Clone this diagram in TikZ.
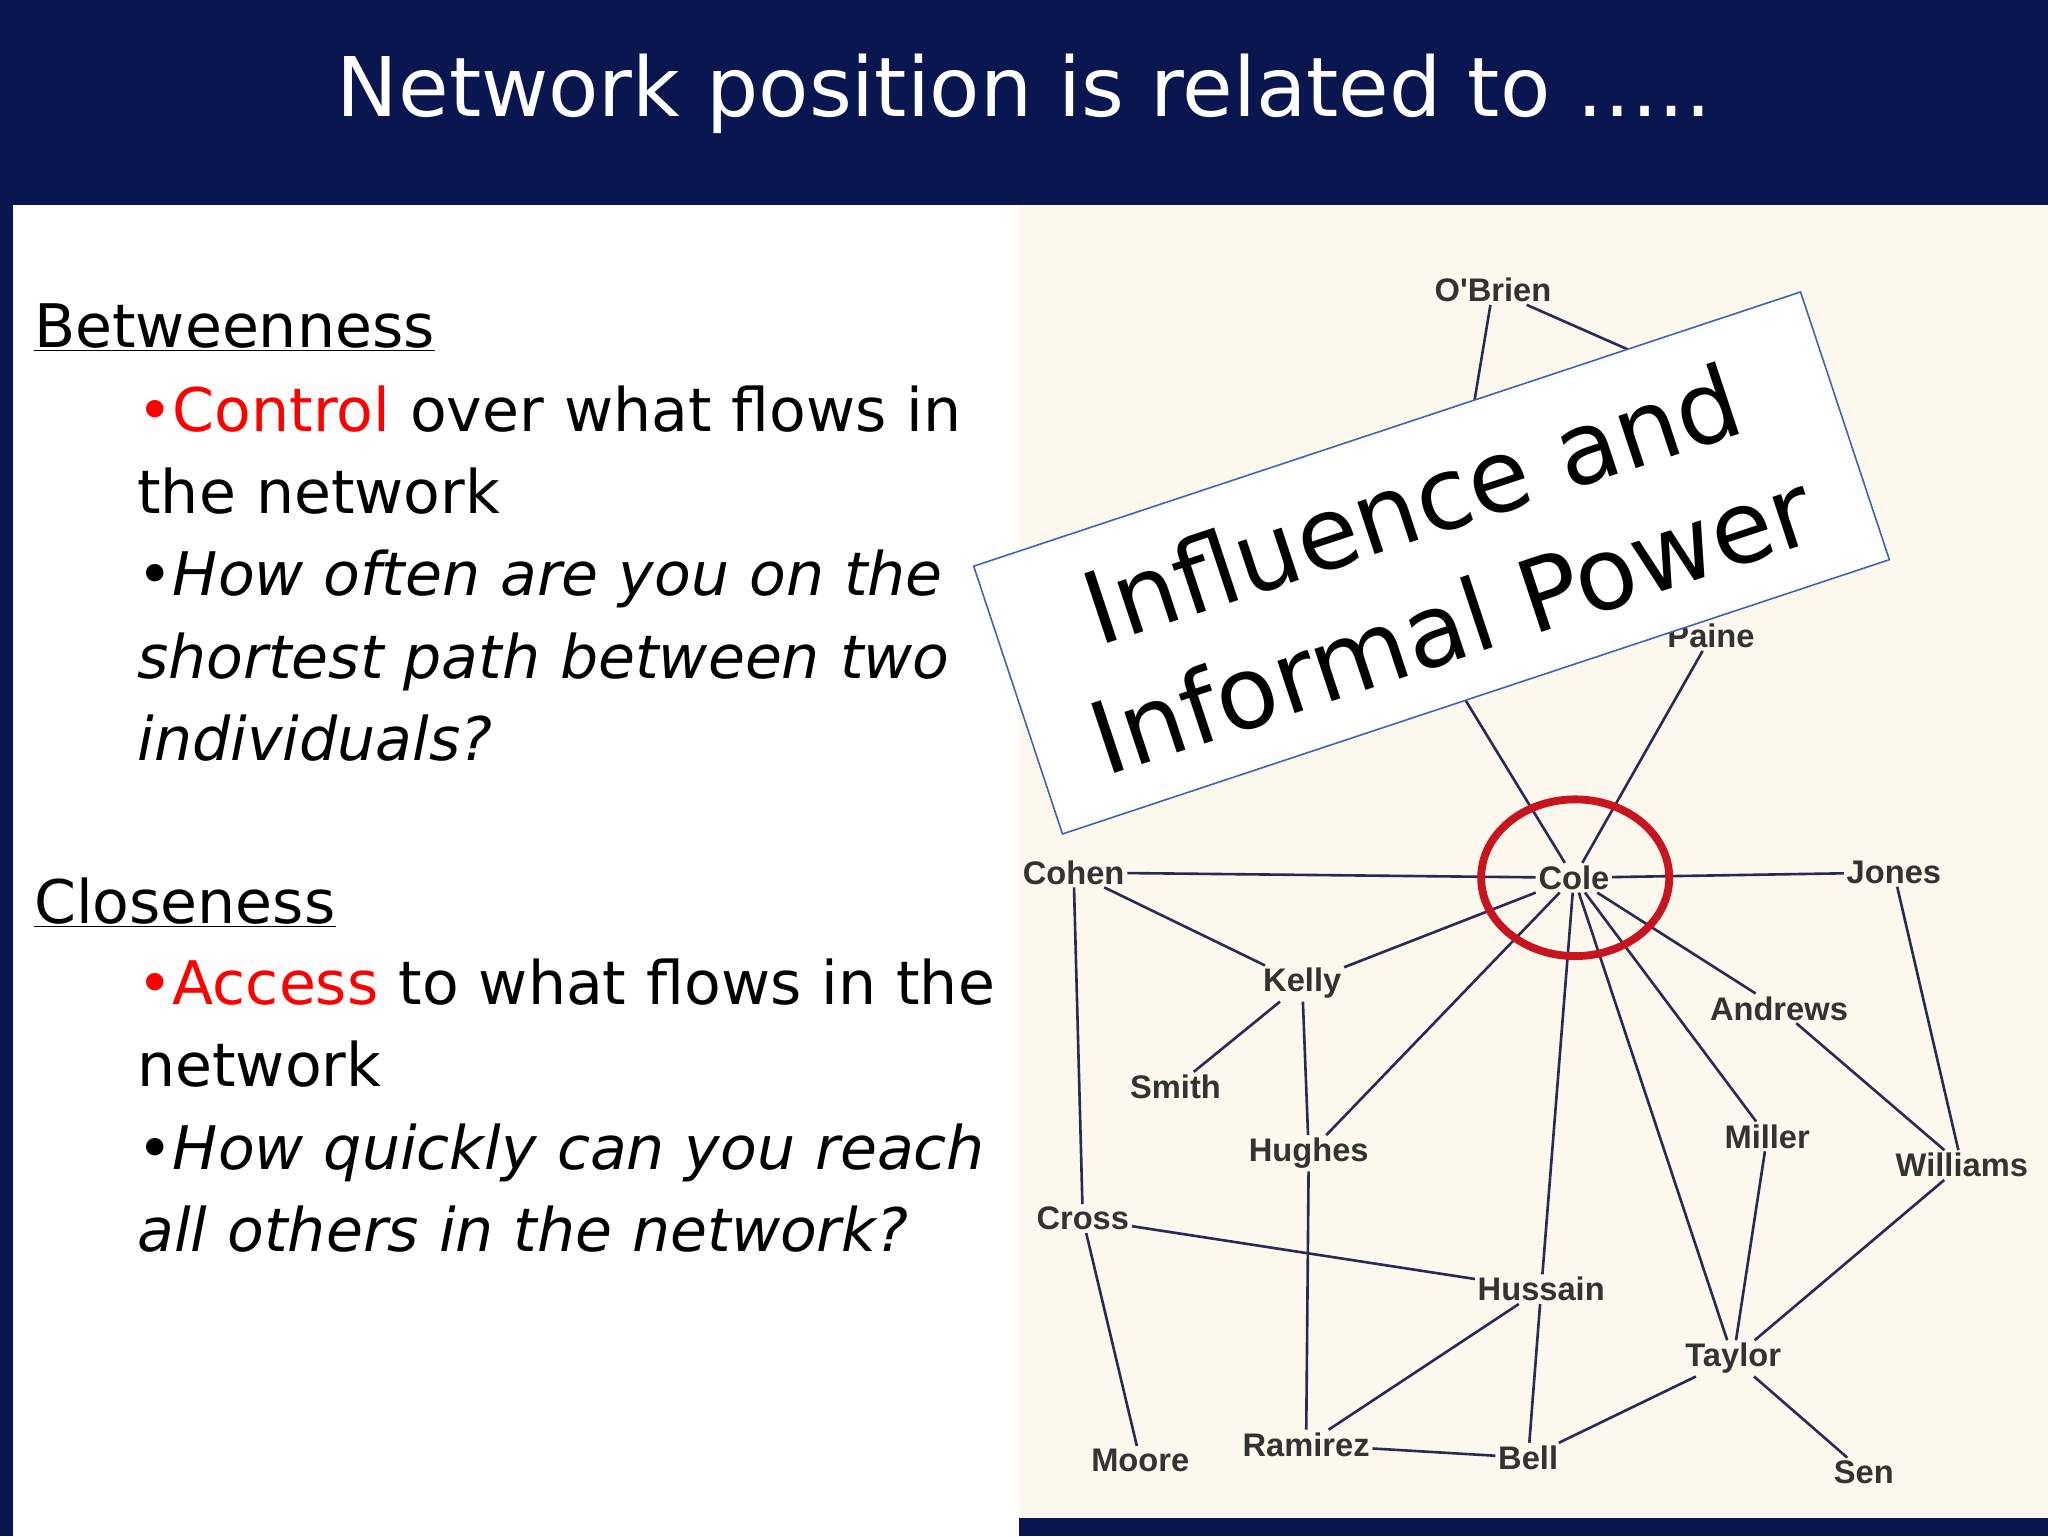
\documentclass[tikz,border=0pt]{standalone}
\usepackage{fontspec}
\setmainfont{DejaVu Sans}
\newfontfamily\netfont{Liberation Sans}
\definecolor{navy}{HTML}{0A1650}
\definecolor{beige}{HTML}{FCF8EE}
\definecolor{edge}{HTML}{2A2A55}
\definecolor{boxblue}{HTML}{3A64B0}
\definecolor{ringred}{HTML}{C8141E}
\tikzset{
 nn/.style={font=\netfont\bfseries\fontsize{25}{25}\selectfont, text=black!80, fill=beige, inner sep=2pt},
 ed/.style={draw=edge, line width=2pt},
 body/.style={anchor=north west, align=left, font=\fontsize{46}{63}\selectfont, text width=700pt, inner sep=0pt}
}
\begin{document}
\begin{tikzpicture}[x=1pt,y=-1pt]
\useasboundingbox (0,0) rectangle (1568,1176);
\fill[navy] (0,0) rectangle (1568,1176);
\fill[white] (10,157) rectangle (780,1176);
\fill[beige] (780,157) rectangle (1568,1162);
\node[text=white, font=\fontsize{63}{63}\selectfont] (title) at (784,72) {Network position is related to …..};
% left text
\node[body] (b1) at (26,232) {\underline{Betweenness}};
\node[body, text width=660pt] (b2) at (105,295) {{\color{red}•Control} over what flows in the network\\ •\textit{How often are you on the shortest path between two individuals?}};
\node[body] (c1) at (26,672) {\underline{Closeness}};
\node[body, text width=680pt] (c2) at (105,734) {{\color{red}•Access} to what flows in the network\\ •\textit{How quickly can you reach all others in the network?}};
% network
\coordinate (h1) at (1110,420);
\coordinate (h2) at (1320,300);
\coordinate (h3) at (1100,500);
\node[nn] (obrien) at (1143,222) {O'Brien};
\node[nn] (paine) at (1310,487) {Paine};
\node[nn] (cole) at (1205,672) {Cole};
\node[nn] (cohen) at (822,668) {Cohen};
\node[nn] (jones) at (1450,668) {Jones};
\node[nn] (kelly) at (997,753) {Kelly};
\node[nn] (andrews) at (1362,772) {Andrews};
\node[nn] (smith) at (900,832) {Smith};
\node[nn] (hughes) at (1002,883) {Hughes};
\node[nn] (miller) at (1353,870) {Miller};
\node[nn] (williams) at (1502,892) {Williams};
\node[nn] (cross) at (829,933) {Cross};
\node[nn] (hussain) at (1180,987) {Hussain};
\node[nn] (taylor) at (1327,1040) {Taylor};
\node[nn] (moore) at (873,1118) {Moore};
\node[nn] (ramirez) at (1000,1106) {Ramirez};
\node[nn] (bell) at (1170,1116) {Bell};
\node[nn] (sen) at (1427,1127) {Sen};
\foreach \a/\b in {obrien/h1,obrien/h2,h3/cole,paine/cole,cohen/cole,cole/jones,cohen/kelly,kelly/cole,kelly/smith,kelly/hughes,hughes/cole,cole/andrews,cole/miller,cole/taylor,cole/hussain,cohen/cross,cross/hussain,cross/moore,hughes/ramirez,ramirez/hussain,ramirez/bell,hussain/bell,bell/taylor,taylor/sen,taylor/miller,taylor/williams,andrews/williams,jones/williams}
 \draw[ed] (\a) -- (\b);
\draw[ringred, line width=6pt] (1206,672) ellipse (72pt and 60pt);
% overlay box
\node[draw=boxblue, line width=1.2pt, fill=white, rotate=18.35, minimum width=667pt, minimum height=216pt, align=center, font=\fontsize{77}{96}\selectfont, inner sep=0pt] (box) at (1096,431) {Influence and\\Informal Power};
\end{tikzpicture}
\end{document}
